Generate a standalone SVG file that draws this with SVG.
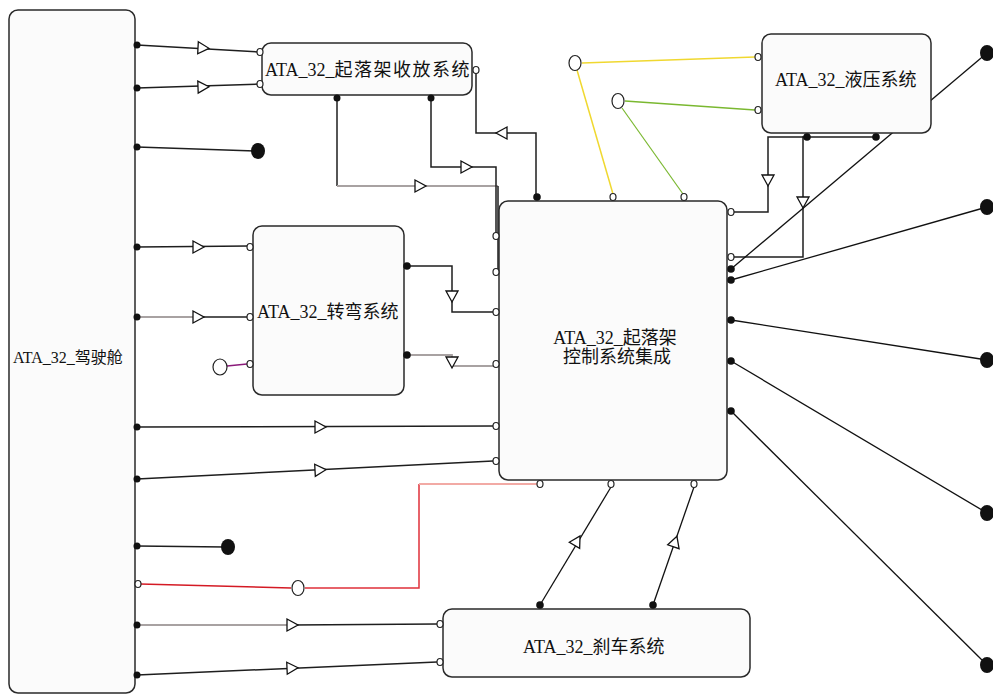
<svg xmlns="http://www.w3.org/2000/svg" xmlns:xlink="http://www.w3.org/1999/xlink" width="993" height="695" viewBox="0 0 993 695">
<style>
.node{fill:#fbfbfb;stroke:#2a2a2a;stroke-width:1.5}
.ln{fill:none;stroke:#1e1e1e;stroke-width:1.5}
.gr{fill:none;stroke:#a8a2a2;stroke-width:1.8}
.op{fill:#fff;stroke:#222;stroke-width:1.2}
.fd{fill:#111}
.txt{font-family:"Liberation Serif","Noto Sans CJK SC",serif;font-size:18px;fill:#111}
</style>
<defs>
<path id="tri" d="M-5,-6 L6,0 L-5,6 Z" fill="#fff" stroke="#111" stroke-width="1.3"/>
</defs>
<rect width="993" height="695" fill="#fff"/>

<g id="connectors">
<path class="ln" d="M137,45 L260,52"/>
<path class="ln" d="M137,88 L260,84"/>
<path class="ln" d="M137,147 L255,151"/>
<path class="ln" d="M137,247 L249,246"/>
<path class="gr" d="M137,317 L200,317"/>
<path class="ln" d="M200,317 L249,317"/>
<path class="ln" d="M137,427 L493,426"/>
<path class="ln" d="M137,479 L493,461"/>
<path class="ln" d="M137,546 L225,547"/>
<path fill="none" stroke="#d41a24" stroke-width="1.5" d="M140,584 L291,588"/>
<path fill="none" stroke="#e0303a" stroke-width="1.5" d="M305,588 L419,588 L419,484"/>
<path fill="none" stroke="#f2aaa5" stroke-width="2" d="M419,484 L537,484"/>
<path class="gr" d="M137,625 L292,625"/>
<path class="ln" d="M292,625 L437,624"/>
<path class="ln" d="M137,675 L437,662"/>
<path fill="none" stroke="#8b1a7a" stroke-width="1.3" d="M227,366 L247,364"/>
<path class="ln" d="M337,97 L337,186"/>
<path class="gr" d="M337,186 L498,186"/>
<path class="ln" d="M498,186 L498,269"/>
<path class="ln" d="M431,97 L431,167 L496,167 L496,233"/>
<path class="ln" d="M479,70 L476,70 L476,133 L536,133 L536,197"/>
<path class="ln" d="M407,266 L452,266 L452,312 L493,312"/>
<path class="gr" d="M407,355 L452,355 L452,366 L493,366"/>
<path fill="none" stroke="#f0d830" stroke-width="1.5" d="M582,63 L755,57"/>
<path fill="none" stroke="#f0d830" stroke-width="1.5" d="M577,70 L613,194"/>
<path fill="none" stroke="#7ab830" stroke-width="1.5" d="M625,101 L755,110"/>
<path fill="none" stroke="#7ab830" stroke-width="1.2" d="M622,108 L683,194"/>
<path class="ln" d="M807,137 L768,137 L768,212 L733,212"/>
<path class="ln" d="M876,137 L803,137 L803,257 L733,257"/>
<path fill="none" stroke="#111" stroke-width="1.3" d="M731,269 L987,53"/>
<path fill="none" stroke="#111" stroke-width="1.3" d="M731,280 L987,207"/>
<path fill="none" stroke="#111" stroke-width="1.3" d="M731,320 L987,360"/>
<path fill="none" stroke="#111" stroke-width="1.3" d="M731,361 L987,513"/>
<path fill="none" stroke="#111" stroke-width="1.3" d="M731,411 L987,665"/>
<path fill="none" stroke="#111" stroke-width="1.3" d="M540,605 L611,487"/>
<path fill="none" stroke="#111" stroke-width="1.3" d="M653,605 L694,487"/>
<use xlink:href="#tri" transform="translate(203,48) rotate(3)"/>
<use xlink:href="#tri" transform="translate(203,87) rotate(-2)"/>
<use xlink:href="#tri" transform="translate(198,247)"/>
<use xlink:href="#tri" transform="translate(198,317)"/>
<use xlink:href="#tri" transform="translate(320,427)"/>
<use xlink:href="#tri" transform="translate(320,470) rotate(-3)"/>
<use xlink:href="#tri" transform="translate(292,625)"/>
<use xlink:href="#tri" transform="translate(292,668) rotate(-2.5)"/>
<use xlink:href="#tri" transform="translate(420,186)"/>
<use xlink:href="#tri" transform="translate(466,167)"/>
<use xlink:href="#tri" transform="translate(502,133) rotate(180)"/>
<use xlink:href="#tri" transform="translate(452,296) rotate(90)"/>
<use xlink:href="#tri" transform="translate(452,362) rotate(90)"/>
<use xlink:href="#tri" transform="translate(768,180) rotate(90)"/>
<use xlink:href="#tri" transform="translate(803,202) rotate(90)"/>
<use xlink:href="#tri" transform="translate(577,541) rotate(-59.6)"/>
<use xlink:href="#tri" transform="translate(675,542) rotate(-71.3)"/>
</g>

<g id="cockpit">
<rect class="node" x="9" y="10" width="126" height="683" rx="9"/>
<text class="txt" x="13" y="363" style="font-size:16px">ATA_32_驾驶舱</text>
<circle class="fd" cx="137" cy="45" r="3.5"/>
<circle class="fd" cx="137" cy="88" r="3.5"/>
<circle class="fd" cx="137" cy="147" r="3.5"/>
<circle class="fd" cx="137" cy="247" r="3.5"/>
<circle class="fd" cx="137" cy="317" r="3.5"/>
<circle class="fd" cx="137" cy="427" r="3.5"/>
<circle class="fd" cx="137" cy="479" r="3.5"/>
<circle class="fd" cx="137" cy="546" r="3.5"/>
<ellipse class="op" cx="138" cy="584" rx="3" ry="3.5"/>
<circle class="fd" cx="137" cy="625" r="3.5"/>
<circle class="fd" cx="137" cy="675" r="3.5"/>
</g>

<g id="retraction">
<rect class="node" x="262" y="43" width="210" height="52" rx="9"/>
<text class="txt" x="265" y="76">ATA_32_<tspan letter-spacing="1.5">起落架收放系统</tspan></text>
<ellipse class="op" cx="260" cy="52" rx="3" ry="3.5"/>
<ellipse class="op" cx="260" cy="84" rx="3" ry="3.5"/>
<ellipse class="op" cx="476" cy="70" rx="3" ry="3.5"/>
<circle class="fd" cx="337" cy="98" r="3.5"/>
<circle class="fd" cx="431" cy="98" r="3.5"/>
</g>

<g id="steering">
<rect class="node" x="253" y="226" width="151" height="169" rx="9"/>
<text class="txt" x="257" y="318">ATA_32_转弯系统</text>
<ellipse class="op" cx="250" cy="247" rx="3" ry="3.5"/>
<ellipse class="op" cx="250" cy="317" rx="3" ry="3.5"/>
<ellipse class="op" cx="250" cy="364" rx="3" ry="3.5"/>
<circle class="fd" cx="407" cy="266" r="3.8"/>
<circle class="fd" cx="407" cy="355" r="3.8"/>
</g>

<g id="steer-input">
<ellipse class="op" cx="220" cy="367" rx="7" ry="8" stroke-width="1.3"/>
</g>

<g id="gear-control">
<rect class="node" x="499" y="201" width="228" height="279" rx="9"/>
<text class="txt" x="615" y="344" text-anchor="middle">ATA_32_起落架</text>
<text class="txt" x="617" y="363" text-anchor="middle">控制系统集成</text>
<ellipse class="op" cx="496" cy="236" rx="3" ry="3.5"/>
<ellipse class="op" cx="496" cy="272" rx="3" ry="3.5"/>
<ellipse class="op" cx="496" cy="312" rx="3" ry="3.5"/>
<ellipse class="op" cx="496" cy="364" rx="3" ry="3.5"/>
<ellipse class="op" cx="496" cy="426" rx="3" ry="3.5"/>
<ellipse class="op" cx="496" cy="461" rx="3" ry="3.5"/>
<circle class="fd" cx="537" cy="197" r="3.8"/>
<ellipse class="op" cx="613" cy="197" rx="3" ry="3.5"/>
<ellipse class="op" cx="684" cy="197" rx="3" ry="3.5"/>
<ellipse class="op" cx="731" cy="212" rx="3" ry="3.5"/>
<ellipse class="op" cx="731" cy="257" rx="3" ry="3.5"/>
<circle class="fd" cx="731" cy="269" r="3.8"/>
<circle class="fd" cx="731" cy="280" r="3.8"/>
<circle class="fd" cx="731" cy="320" r="3.8"/>
<circle class="fd" cx="731" cy="361" r="3.8"/>
<circle class="fd" cx="731" cy="411" r="3.8"/>
<ellipse class="op" cx="540" cy="484" rx="3" ry="3.5"/>
<ellipse class="op" cx="611" cy="484" rx="3" ry="3.5"/>
<ellipse class="op" cx="694" cy="484" rx="3" ry="3.5"/>
</g>

<g id="hydraulic">
<rect class="node" x="762" y="34" width="169" height="99" rx="9"/>
<text class="txt" x="775" y="86">ATA_32_液压系统</text>
<ellipse class="op" cx="758" cy="57" rx="3" ry="3.5"/>
<ellipse class="op" cx="758" cy="110" rx="3" ry="3.5"/>
<circle class="fd" cx="807" cy="137" r="3.8"/>
<circle class="fd" cx="876" cy="137" r="3.8"/>
</g>

<g id="hyd-yellow"><ellipse class="op" cx="575" cy="63" rx="6" ry="7.5" stroke-width="1.3"/></g>
<g id="hyd-green"><ellipse class="op" cx="618" cy="101" rx="6" ry="7.5" stroke-width="1.3"/></g>
<g id="red-tap"><ellipse class="op" cx="298" cy="588" rx="6" ry="7.5" stroke-width="1.3"/></g>

<g id="brake">
<rect class="node" x="443" y="609" width="307" height="68" rx="9"/>
<text class="txt" x="523" y="653">ATA_32_刹车系统</text>
<ellipse class="op" cx="440" cy="624" rx="3" ry="3.5"/>
<ellipse class="op" cx="440" cy="662" rx="3" ry="3.5"/>
<circle class="fd" cx="540" cy="605" r="3.8"/>
<circle class="fd" cx="653" cy="605" r="3.8"/>
</g>

<g id="terminals">
<ellipse class="fd" cx="258" cy="151" rx="7" ry="8"/>
<ellipse class="fd" cx="228" cy="547" rx="7" ry="8"/>
<ellipse class="fd" cx="987" cy="53" rx="7" ry="8"/>
<ellipse class="fd" cx="987" cy="207" rx="7" ry="8"/>
<ellipse class="fd" cx="987" cy="360" rx="7" ry="8"/>
<ellipse class="fd" cx="987" cy="513" rx="7" ry="8"/>
<ellipse class="fd" cx="987" cy="665" rx="7" ry="8"/>
</g>
</svg>
